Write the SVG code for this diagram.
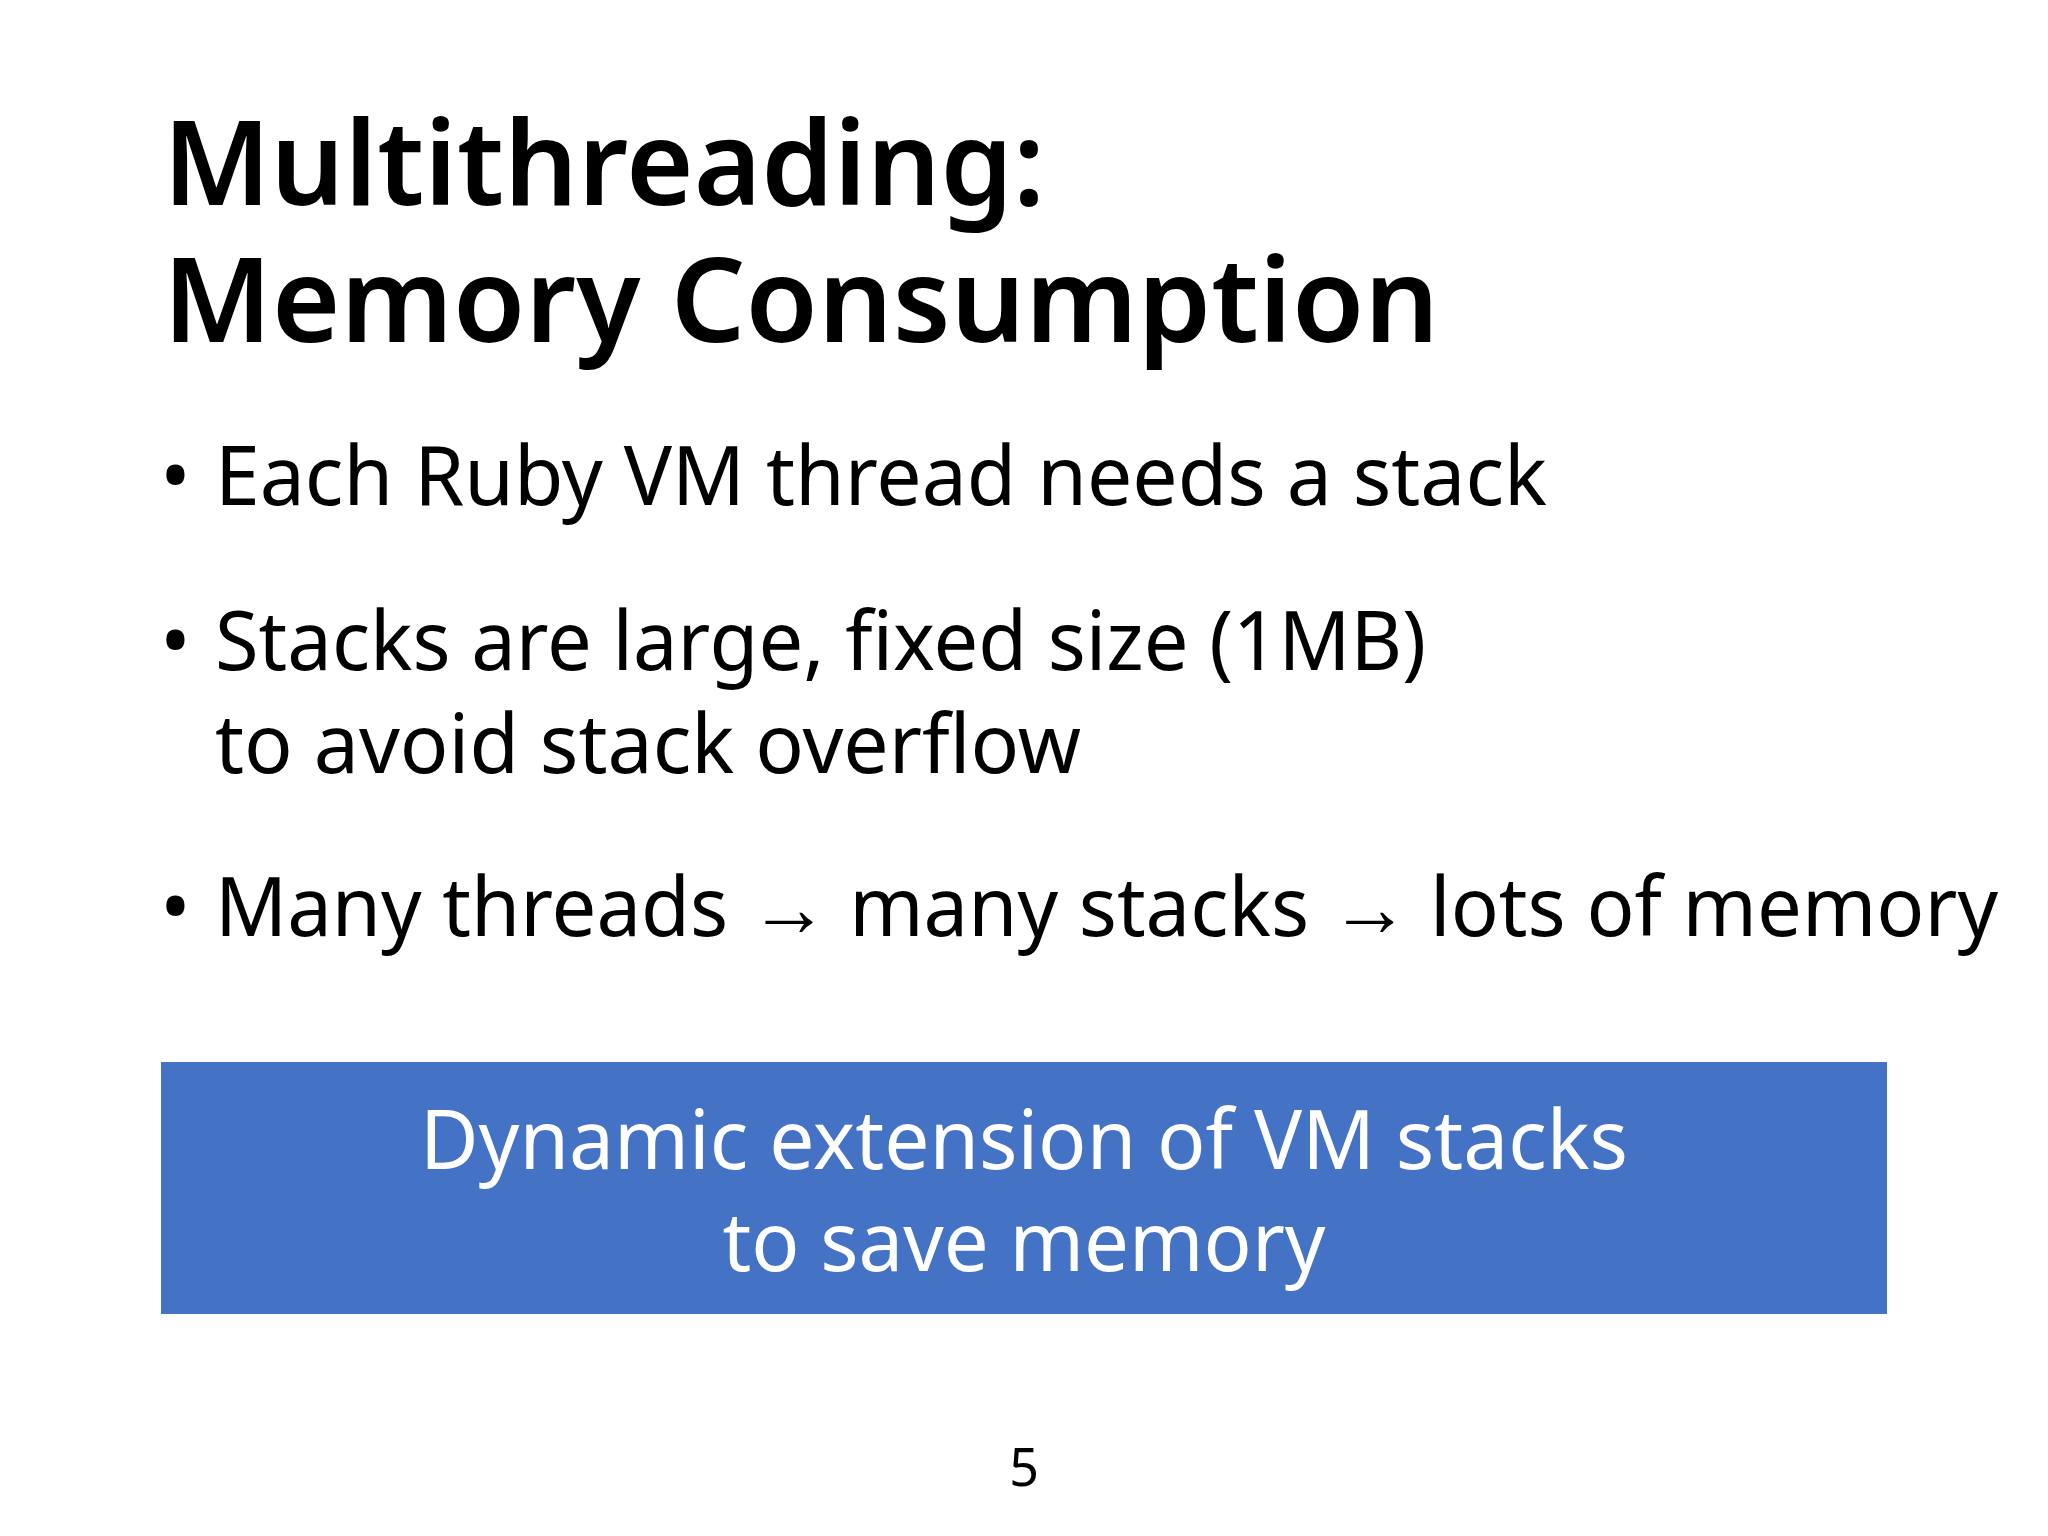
<svg xmlns="http://www.w3.org/2000/svg" width="2048" height="1536" viewBox="0 0 2048 1536">
<style>
text{font-family:"Noto Sans","Open Sans","Liberation Sans",sans-serif;fill:#000}
.t{font-size:118px;font-weight:600}
.b{font-size:82px}
.w{fill:#fff;font-size:82px;text-anchor:middle}
</style>
<rect width="2048" height="1536" fill="#fff"/>
<g id="title">
<text class="t" x="163" y="205" textLength="882" lengthAdjust="spacingAndGlyphs">Multithreading:</text>
<text class="t" x="163" y="342" textLength="1276" lengthAdjust="spacingAndGlyphs">Memory Consumption</text>
</g>
<g id="bullets">
<text class="b" x="160" y="505">•</text>
<text class="b" x="215" y="505" textLength="1332" lengthAdjust="spacingAndGlyphs">Each Ruby VM thread needs a stack</text>
<text class="b" x="160" y="670">•</text>
<text class="b" x="215" y="670" textLength="1211" lengthAdjust="spacingAndGlyphs">Stacks are large, fixed size (1MB)</text>
<text class="b" x="215" y="773" textLength="866" lengthAdjust="spacingAndGlyphs">to avoid stack overflow</text>
<text class="b" x="160" y="936">•</text>
<text class="b" x="215" y="936" textLength="1783" lengthAdjust="spacingAndGlyphs">Many threads → many stacks → lots of memory</text>
</g>
<g id="box">
<rect x="161" y="1062" width="1726" height="252" fill="#4472C4"/>
<text class="w" x="1024" y="1169" textLength="1208" lengthAdjust="spacingAndGlyphs">Dynamic extension of VM stacks</text>
<text class="w" x="1024" y="1271" textLength="603" lengthAdjust="spacingAndGlyphs">to save memory</text>
</g>
<text x="1024" y="1486" font-size="52" text-anchor="middle">5</text>
</svg>
